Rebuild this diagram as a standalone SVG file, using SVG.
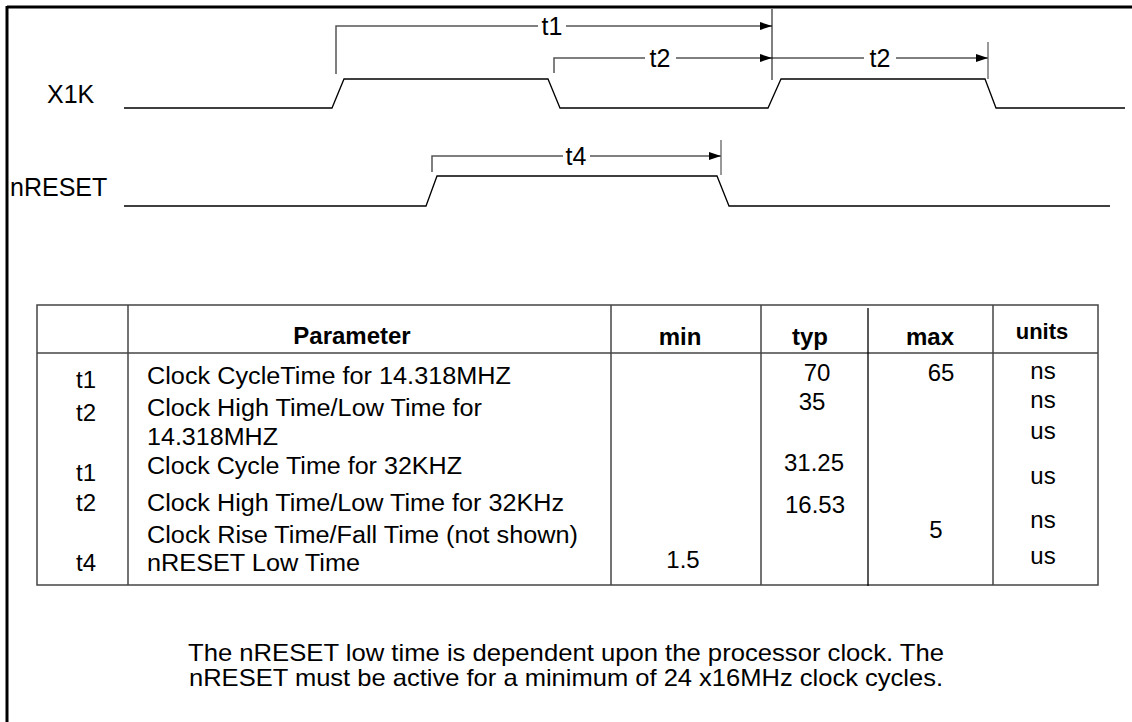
<svg xmlns="http://www.w3.org/2000/svg" width="1132" height="722" viewBox="0 0 1132 722">
<defs>
<marker id="ah" markerWidth="12" markerHeight="8" refX="12" refY="4" orient="auto" markerUnits="userSpaceOnUse">
<path d="M0,0 L12,4 L0,8 Z" fill="#000"/>
</marker>
<style>
text{font-family:"Liberation Sans",Arial,sans-serif;fill:#000}
.lbl{font-size:25px}
.tl{font-size:25px;text-anchor:middle}
.wave{fill:none;stroke:#000;stroke-width:1.3}
.dim{fill:none;stroke:#555;stroke-width:1.5}
.arr{fill:none;stroke:#000;stroke-width:1}
.grid{stroke:#444;stroke-width:1.5;fill:none}
.hd{font-size:24px;font-weight:bold;text-anchor:middle}
.td{font-size:24px}
.pm{font-size:23px}
.c{text-anchor:middle}
.para{font-size:24px}
</style>
</defs>
<rect width="1132" height="722" fill="#fff"/>
<g id="frame">
<line x1="7" y1="7" x2="1132" y2="7" stroke="#000" stroke-width="3"/>
<line x1="7" y1="6" x2="7" y2="722" stroke="#000" stroke-width="3"/>
</g>
<g id="x1k">
<text class="lbl" x="47" y="103">X1K</text>
<polyline class="wave" points="124,108 332,108 344,79 548,79 560,108 768,108 781,79 985,79 996,108 1125,108"/>
</g>
<g id="nreset">
<text class="lbl" x="10" y="196">nRESET</text>
<polyline class="wave" points="124,206 426,206 437,176 717,176 729,206 1110,206"/>
</g>
<g id="connectors">
<polyline class="dim" points="336,74 336,26 538,26"/>
<line class="arr" x1="566" y1="26" x2="772" y2="26" marker-end="url(#ah)"/>
<line x1="772" y1="9" x2="772" y2="80" stroke="#000" stroke-width="1"/>
<polyline class="dim" points="554,73 554,58 645,58"/>
<line class="arr" x1="676" y1="58" x2="772" y2="58" marker-end="url(#ah)"/>
<line class="arr" x1="772" y1="58" x2="864" y2="58"/>
<line class="arr" x1="896" y1="58" x2="988" y2="58" marker-end="url(#ah)"/>
<line x1="988" y1="42" x2="988" y2="79" stroke="#555" stroke-width="1.2"/>
<polyline class="dim" points="432,172 432,156 563,156"/>
<line class="arr" x1="590" y1="156" x2="721" y2="156" marker-end="url(#ah)"/>
<line x1="721" y1="140" x2="721" y2="175" stroke="#555" stroke-width="1.2"/>
<text class="tl" x="552" y="35">t1</text>
<text class="tl" x="660" y="67">t2</text>
<text class="tl" x="880" y="67">t2</text>
<text class="tl" x="576" y="165">t4</text>
</g>
<g id="table">
<rect class="grid" x="37" y="305" width="1061" height="280"/>
<line class="grid" x1="37" y1="353" x2="1098" y2="353"/>
<line class="grid" x1="128" y1="305" x2="128" y2="585"/>
<line class="grid" x1="611" y1="305" x2="611" y2="585"/>
<line class="grid" x1="761" y1="305" x2="761" y2="585"/>
<line x1="868" y1="308" x2="868" y2="586" stroke="#000" stroke-width="1.3"/>
<line class="grid" x1="993" y1="305" x2="993" y2="585"/>
<text class="hd" x="352" y="344">Parameter</text>
<text class="hd" x="680" y="345">min</text>
<text class="hd" x="810" y="345">typ</text>
<text class="hd" x="930" y="345">max</text>
<text class="hd" x="1042" y="339" style="font-size:22px">units</text>
<text class="td c" x="86" y="388">t1</text>
<text class="td c" x="86" y="421">t2</text>
<text class="td c" x="86" y="481">t1</text>
<text class="td c" x="86" y="511">t2</text>
<text class="td c" x="86" y="571">t4</text>
<text class="pm" x="147" y="384" textLength="364" lengthAdjust="spacingAndGlyphs">Clock CycleTime for 14.318MHZ</text>
<text class="pm" x="147" y="416" textLength="335" lengthAdjust="spacingAndGlyphs">Clock High Time/Low Time for</text>
<text class="pm" x="147" y="445" textLength="131" lengthAdjust="spacingAndGlyphs">14.318MHZ</text>
<text class="pm" x="147" y="474" textLength="315" lengthAdjust="spacingAndGlyphs">Clock Cycle Time for 32KHZ</text>
<text class="pm" x="147" y="511" textLength="417" lengthAdjust="spacingAndGlyphs">Clock High Time/Low Time for 32KHz</text>
<text class="pm" x="147" y="543" textLength="431" lengthAdjust="spacingAndGlyphs">Clock Rise Time/Fall Time (not shown)</text>
<text class="pm" x="147" y="571" textLength="213" lengthAdjust="spacingAndGlyphs">nRESET Low Time</text>
<text class="td c" x="683" y="568">1.5</text>
<text class="td c" x="817" y="381">70</text>
<text class="td c" x="812" y="410">35</text>
<text class="td c" x="814" y="471">31.25</text>
<text class="td c" x="815" y="513">16.53</text>
<text class="td c" x="941" y="381">65</text>
<text class="td c" x="936" y="538">5</text>
<text class="td c" x="1043" y="379">ns</text>
<text class="td c" x="1043" y="408">ns</text>
<text class="td c" x="1043" y="439">us</text>
<text class="td c" x="1043" y="484">us</text>
<text class="td c" x="1043" y="528">ns</text>
<text class="td c" x="1043" y="564">us</text>
</g>
<g id="note">
<text class="para" x="188" y="661" textLength="756" lengthAdjust="spacingAndGlyphs">The nRESET low time is dependent upon the processor clock.  The</text>
<text class="para" x="189" y="686" textLength="754" lengthAdjust="spacingAndGlyphs">nRESET must be active for a minimum of 24 x16MHz clock cycles.</text>
</g>
</svg>
